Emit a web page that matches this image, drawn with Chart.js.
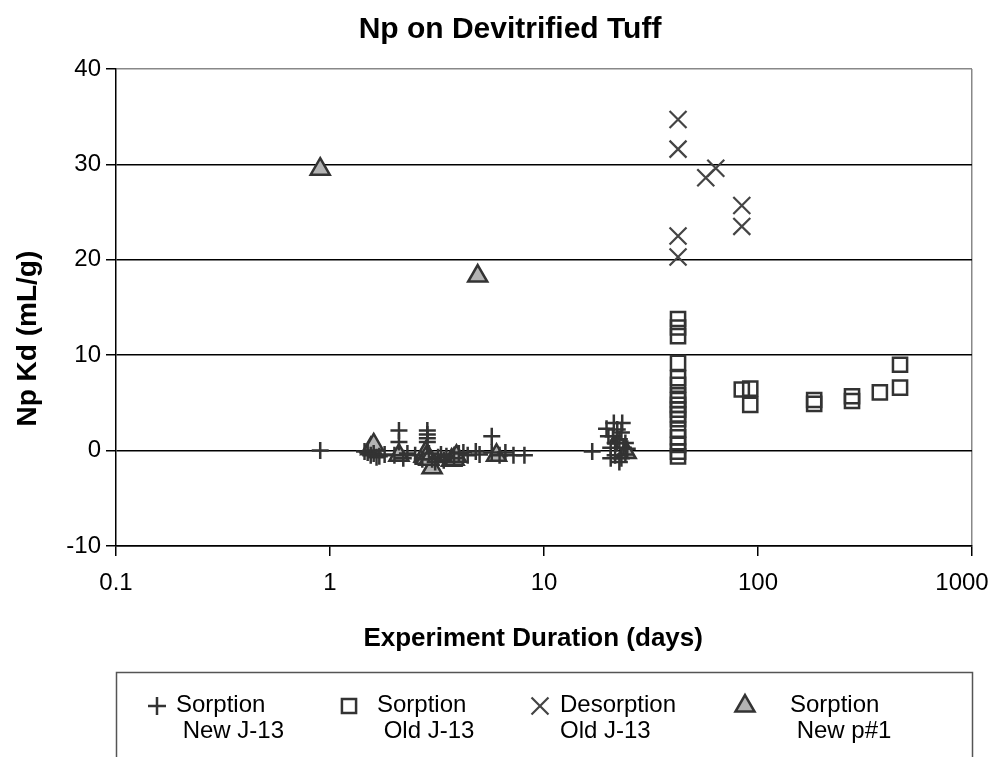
<!DOCTYPE html>
<html>
<head>
<meta charset="utf-8">
<script src="https://cdn.jsdelivr.net/npm/chart.js@4/dist/chart.umd.min.js"></script>
<style>
  html, body { margin: 0; padding: 0; background: #fff; }
  #c { display: block; }
</style>
</head>
<body>
<canvas id="c" width="995" height="757"></canvas>
<script>
// --- данные ---
const xTicks = [0.1, 1, 10, 100, 1000];
const yTicks = [-10, 0, 10, 20, 30, 40];

// Sorption New J-13 (+)
const newJ13Days = [0.9, 1.45, 1.5, 1.55, 1.6, 1.65, 1.7, 1.8, 2.1, 2.1, 2.0, 2.2, 2.3, 2.5, 2.7, 2.85, 2.85, 2.85, 2.85, 2.9,
  3.0, 3.1, 3.2, 3.3, 3.4, 3.5, 3.8, 4.0, 4.2, 4.4, 4.8, 5.0, 5.7, 5.7, 6.2, 6.6, 7.2, 8.1,
  16.8, 19.6, 20.0, 20.5, 20.5, 21.0, 21.2, 21.5, 21.5, 22.0, 22.0, 22.5, 22.5, 23.0, 23.0, 23.2, 23.5, 24.0, 24.0, 24.5];
const newJ13Kd = [0.0, -0.1, -0.2, -0.5, -0.3, -0.7, -0.6, -0.4, 2.1, 0.9, -0.5, -0.8, -0.3, -0.5, -0.9, 2.1, 1.7, 1.3, 0.9, -0.3,
  -0.9, -1.2, -0.7, -0.4, -1.0, -0.6, -0.8, -0.3, -0.2, -0.5, -0.1, -0.4, 1.5, -0.2, -0.5, -0.2, -0.5, -0.5,
  -0.1, 2.3, 1.5, 0.3, -0.8, 1.5, 2.9, 0.8, -0.5, 0.8, 2.2, 1.2, -1.2, 1.9, -0.8, 2.9, 0.3, -0.4, 0.8, 0.2];

// Sorption Old J-13 (квадраты)
const oldJ13Days = [42.3, 42.3, 42.3, 42.3, 42.3, 42.3, 42.3, 42.3, 42.3, 42.3, 42.3, 42.3, 42.3, 42.3, 42.3, 42.3, 42.3,
  84, 92, 92, 183, 183, 275, 275, 371, 461, 461];
const oldJ13Kd = [13.8, 12.9, 12.0, 9.2, 7.6, 6.9, 5.8, 5.3, 4.8, 4.3, 3.8, 3.3, 2.2, 1.4, 0.6, -0.1, -0.6,
  6.4, 6.5, 4.8, 5.3, 4.9, 5.7, 5.2, 6.1, 9.0, 6.6];

// Desorption Old J-13 (x)
const desDays = [42.3, 42.3, 57, 63.5, 84, 84, 42.3, 42.3];
const desKd = [34.7, 31.6, 28.6, 29.6, 25.7, 23.5, 22.5, 20.3];

// Sorption New p#1 (треугольники)
const p1Days = [0.9, 4.9, 1.55, 1.6, 2.1, 2.75, 2.8, 2.8, 3.0, 3.7, 3.8, 3.9, 6.0, 24.2, 2.9];
const p1Kd = [29.5, 18.3, 0.2, 0.6, -0.5, -0.6, -0.2, -0.8, -1.8, -1.0, -0.9, -0.6, -0.5, -0.2, -0.9];

const FONT = "'Liberation Sans', Arial, sans-serif";
Chart.defaults.font.family = FONT;
Chart.defaults.color = "#000";

const toPts = (xs, ys) => xs.map((x, i) => ({ x, y: ys[i] }));

// легенда в рамке под графиком, подписи в две строки
const legendBox = {
  id: "legendBox",
  afterDraw(chart) {
    const { ctx, chartArea: a } = chart;
    const top = 672;
    const slots = [157, 349, 540, 745];     // x маркеров
    const textX = [176, 377, 560, 790];     // x текста
    ctx.save();
    ctx.strokeStyle = "#555";
    ctx.lineWidth = 1.5;
    ctx.strokeRect(a.left + 0.5, top + 0.5, a.right - a.left, 140);
    chart.data.datasets.forEach((ds, i) => {
      ctx.save();
      ctx.strokeStyle = ds.borderColor;
      ctx.fillStyle = ds.backgroundColor;
      ctx.lineWidth = ds.borderWidth;
      Chart.helpers.drawPoint(ctx, {
        pointStyle: ds.pointStyle, radius: ds.legendRadius, rotation: 0, borderWidth: ds.borderWidth
      }, slots[i], top + 34);
      ctx.restore();
      ctx.fillStyle = "#000";
      ctx.font = "24px " + FONT;
      ctx.textBaseline = "middle";
      ctx.fillText(ds.label[0], textX[i], top + 33);
      ctx.fillText(ds.label[1], textX[i], top + 59);
    });
    ctx.restore();
  }
};

new Chart(document.getElementById("c"), {
  type: "scatter",
  data: {
    datasets: [
      { label: ["Sorption", " New J-13"], data: toPts(newJ13Days, newJ13Kd),
        pointStyle: "cross", pointRadius: 8.5, legendRadius: 9,
        borderColor: "#333", backgroundColor: "#333", borderWidth: 2.5 },
      { label: ["Sorption", " Old J-13"], data: toPts(oldJ13Days, oldJ13Kd),
        pointStyle: "rect", pointRadius: 10, legendRadius: 10,
        borderColor: "#333", backgroundColor: "rgba(255,255,255,0)", borderWidth: 2.5 },
      { label: ["Desorption", "Old J-13"], data: toPts(desDays, desKd),
        pointStyle: "crossRot", pointRadius: 12, legendRadius: 12,
        borderColor: "#444", backgroundColor: "#444", borderWidth: 2.2 },
      { label: ["Sorption", " New p#1"], data: toPts(p1Days, p1Kd),
        pointStyle: "triangle", pointRadius: 11, legendRadius: 11,
        borderColor: "#333", backgroundColor: "#b3b3b3", borderWidth: 2.5 }
    ]
  },
  options: {
    responsive: false,
    animation: false,
    layout: { padding: { left: 0, right: 0, top: 0, bottom: 97 } },
    plugins: {
      legend: { display: false },
      tooltip: { enabled: false },
      title: {
        display: true, text: "\u00A0\u00A0\u00A0Np on Devitrified Tuff", color: "#000",
        font: { size: 30, weight: "bold" }, padding: { top: 12, bottom: 21 }
      }
    },
    scales: {
      x: {
        type: "logarithmic", min: 0.1, max: 1000,
        afterBuildTicks: (s) => { s.ticks = xTicks.map(v => ({ value: v })); },
        afterFit: (s) => { s.height = 114; s.paddingLeft = 0; s.paddingRight = 23; },
        // у последней подписи сдвиг влево, чтобы не обрезалась
        ticks: { callback: (v) => v === 1000 ? "1000\u00A0\u00A0\u00A0" : String(v),
          font: { size: 24 }, color: "#000", padding: 13, maxRotation: 0, autoSkip: false },
        grid: {
          color: (c) => c.tick && c.tick.value === 1000 ? "#888" : "rgba(0,0,0,0)",
          tickColor: "#000", tickLength: 10, lineWidth: 1.5
        },
        border: { color: "#000", width: 1.5 },
        title: { display: true, text: "Experiment Duration (days)\u00A0\u00A0\u00A0", color: "#000",
          font: { size: 26, weight: "bold" }, padding: { top: 0, bottom: 6 } }
      },
      y: {
        min: -10, max: 40,
        afterBuildTicks: (s) => { s.ticks = yTicks.map(v => ({ value: v })); },
        afterFit: (s) => { s.width = 116; },
        ticks: { font: { size: 24 }, color: "#000", padding: 5 },
        grid: {
          color: (c) => c.tick && c.tick.value === 40 ? "#888" : "#000",
          tickColor: "#000", tickLength: 10, lineWidth: 1.5
        },
        border: { color: "#000", width: 1.5 },
        title: { display: true, text: "Np Kd (mL/g)\u00A0\u00A0\u00A0\u00A0\u00A0\u00A0\u00A0\u00A0", color: "#000",
          font: { size: 28, weight: "bold" }, padding: { top: 11, bottom: 0 } }
      }
    }
  },
  plugins: [legendBox]
});
</script>
</body>
</html>
